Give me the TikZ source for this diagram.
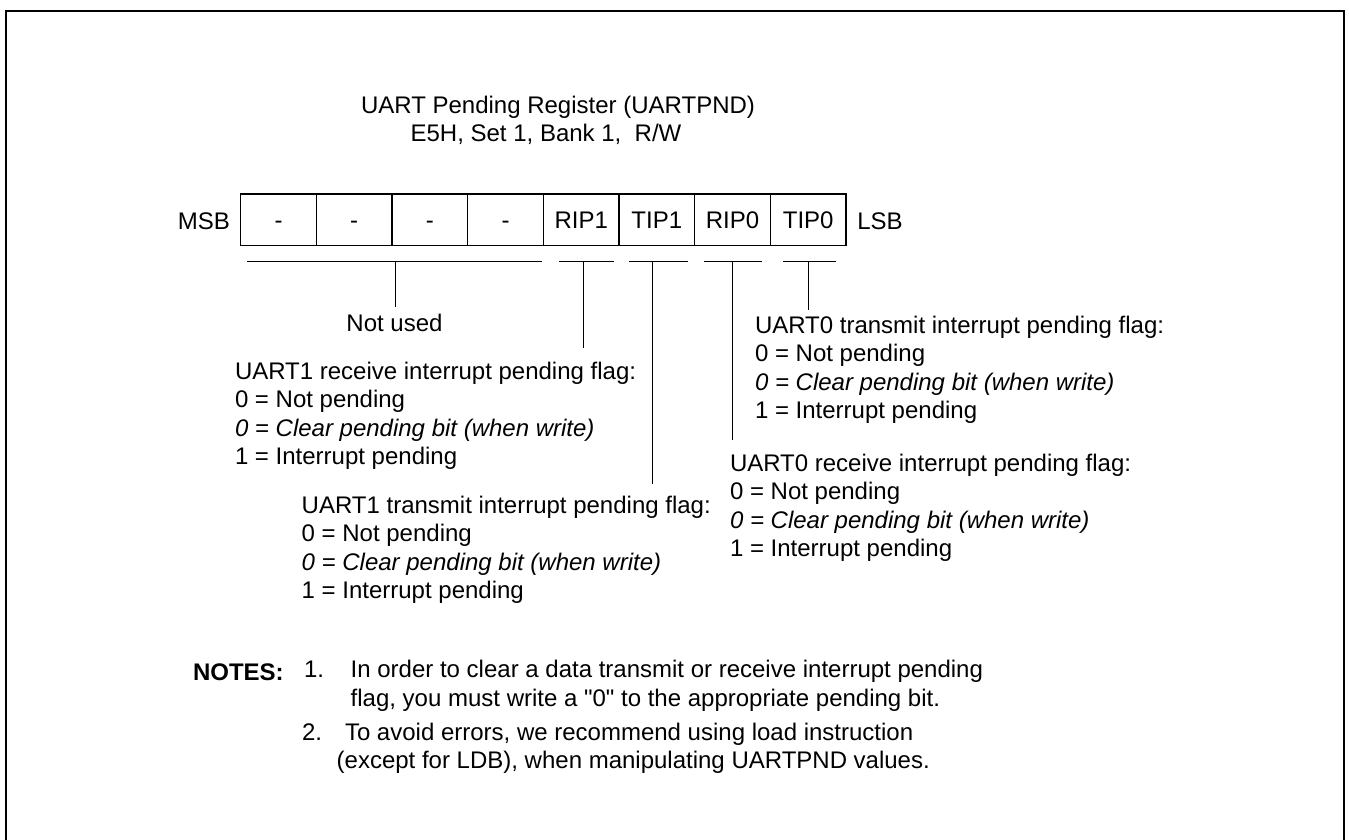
\documentclass[tikz,border=0pt]{standalone}
\usepackage{fontspec}
\setmainfont{Liberation Sans}
\begin{document}
\begin{tikzpicture}[x=1pt,y=-1pt,
  txt/.style={font=\fontsize{24}{28.5}\selectfont, inner sep=0pt, outer sep=0pt},
  block/.style={txt, align=left, anchor=north west},
  cell/.style={draw, line width=1.3pt, minimum width=75.66pt, minimum height=51.7pt, inner sep=0pt, txt, text height=17.2pt, text depth=0pt},
  lead/.style={line width=1pt},
  frame/.style={line width=2.7pt}]
\useasboundingbox (0,0) rectangle (1349,840);
% frame
\coordinate (fBL) at (6,850);
\coordinate (fTL) at (6,11);
\coordinate (fTR) at (1344,11);
\coordinate (fBR) at (1344,850);
\draw[frame] (fBL) -- (fTL) -- (fTR) -- (fBR);
% title
\node[txt, anchor=base] (title1) at (558,113.5) {UART Pending Register (UARTPND)};
\node[txt, anchor=base] (title2) at (546,141.5) {E5H, Set 1, Bank 1,\ \ R/W};
% register cells
\node[cell] (c7) at (278.5,219.85) {-};
\node[cell] (c6) at (354.2,219.85) {-};
\node[cell] (c5) at (429.9,219.85) {-};
\node[cell] (c4) at (505.5,219.85) {-};
\node[cell] (c3) at (581.2,219.85) {RIP1};
\node[cell] (c2) at (656.8,219.85) {TIP1};
\node[cell] (c1) at (732.5,219.85) {RIP0};
\node[cell] (c0) at (808.2,219.85) {TIP0};
\node[txt, anchor=base] (msb) at (204,229) {MSB};
\node[txt, anchor=base] (lsb) at (880,229) {LSB};
% bracket coordinates
\coordinate (nuL) at (247,261);   \coordinate (nuR) at (542,261);
\coordinate (nuM) at (395.7,261); \coordinate (nuE) at (395.7,307);
\coordinate (r1L) at (559,261);   \coordinate (r1R) at (614,261);
\coordinate (r1M) at (583,261);   \coordinate (r1E) at (583,348);
\coordinate (t1L) at (629,261);   \coordinate (t1R) at (688,261);
\coordinate (t1M) at (652.7,261); \coordinate (t1E) at (652.7,484);
\coordinate (r0L) at (704,261);   \coordinate (r0R) at (762,261);
\coordinate (r0M) at (732,261);   \coordinate (r0E) at (732,440);
\coordinate (t0L) at (783,261);   \coordinate (t0R) at (836,261);
\coordinate (t0M) at (808,261);   \coordinate (t0E) at (808,310);
\draw[lead] (nuL) -- (nuR); \draw[lead] (nuM) -- (nuE);
\draw[lead] (r1L) -- (r1R); \draw[lead] (r1M) -- (r1E);
\draw[lead] (t1L) -- (t1R); \draw[lead] (t1M) -- (t1E);
\draw[lead] (r0L) -- (r0R); \draw[lead] (r0M) -- (r0E);
\draw[lead] (t0L) -- (t0R); \draw[lead] (t0M) -- (t0E);
% descriptions
\node[txt, anchor=base] (notused) at (394.5,331.5) {Not used};
\node[block] (rx1) at (235,362) {UART1 receive interrupt pending flag:\\0 = Not pending\\\itshape 0 = Clear pending bit (when write)\\1 = Interrupt pending};
\node[block] (tx1) at (301.7,496) {UART1 transmit interrupt pending flag:\\0 = Not pending\\\itshape 0 = Clear pending bit (when write)\\1 = Interrupt pending};
\node[block] (tx0) at (755,316) {UART0 transmit interrupt pending flag:\\0 = Not pending\\\itshape 0 = Clear pending bit (when write)\\1 = Interrupt pending};
\node[block] (rx0) at (730,454) {UART0 receive interrupt pending flag:\\0 = Not pending\\\itshape 0 = Clear pending bit (when write)\\1 = Interrupt pending};
% notes
\node[txt, anchor=base west, font=\fontsize{24}{28.5}\selectfont\bfseries] (notes) at (193,680.5) {NOTES:};
\node[txt, anchor=base west] (n1num) at (304,677.5) {1.};
\node[txt, anchor=base west] (n1a) at (350.7,677.5) {In order to clear a data transmit or receive interrupt pending};
\node[txt, anchor=base west] (n1b) at (350.7,706.5) {flag, you must write a \textquotedbl 0\textquotedbl\ to the appropriate pending bit.};
\node[txt, anchor=base west] (n2num) at (302,740) {2.};
\node[txt, anchor=base west] (n2a) at (345,740) {To avoid errors, we recommend using load instruction};
\node[txt, anchor=base west] (n2b) at (336.7,768.5) {(except for LDB), when manipulating UARTPND values.};
\end{tikzpicture}
\end{document}
